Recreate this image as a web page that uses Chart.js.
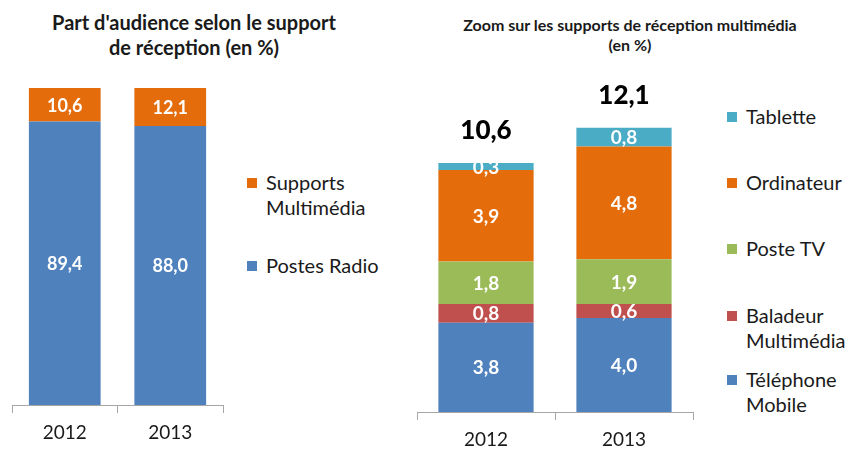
<!DOCTYPE html>
<html>
<head>
<meta charset="utf-8">
<script src="https://cdn.jsdelivr.net/npm/chart.js@4"></script>
<style>
  body { margin: 0; background: #fff; font-family: Lato, "Noto Sans", sans-serif; color: #1a1a1a; }
  .wrap { position: relative; width: 848px; height: 450px; overflow: hidden; }
  .box { position: absolute; }
  .title { position: absolute; font-weight: bold; text-align: center; white-space: nowrap; }
  .leg { position: absolute; font-size: 20px; line-height: 25px; padding-left: 19px; white-space: nowrap; }
  .leg i { position: absolute; left: 0; top: 8px; width: 10px; height: 10px; }
</style>
</head>
<body>
<div class="wrap">
  <div class="title" style="left:24px; top:10px; width:340px; font-size:20px; line-height:25px;">Part d'audience selon le support<br>de réception (en %)</div>
  <div class="title" style="left:450px; top:15px; width:360px; font-size:16px; line-height:20px;">Zoom sur les supports de réception multimédia<br>(en %)</div>

  <div class="box" style="left:0; top:0;"><canvas id="audienceChart" width="240" height="450"></canvas></div>
  <div class="box" style="left:410px; top:0;"><canvas id="zoomChart" width="300" height="450"></canvas></div>

  <div id="legendLeft"></div>
  <div id="legendRight"></div>
</div>
<script>
// categories
const years = ['2012', '2013'];

// left chart: share of audience (%)
const postesRadio = [89.4, 88.0];
const supportsMultimedia = [10.6, 12.1];

// right chart: multimedia breakdown (%)
const telephoneMobile = [3.8, 4.0];
const baladeurMultimedia = [0.8, 0.6];
const posteTV = [1.8, 1.9];
const ordinateur = [3.9, 4.8];
const tablette = [0.3, 0.8];

const BLUE = '#4f81bd', ORANGE = '#e46c0a', GREEN = '#9bbb59', RED = '#c0504d', TEAL = '#4bacc6';
const FONT = 'Lato, "Noto Sans", sans-serif';

function fmt(v) {
    return v.toFixed(1).replace('.', ',');
}

// white value labels in the middle of every segment
const segmentLabels = {
    id: 'segmentLabels',
    afterDatasetsDraw(chart, args, opts) {
        const ctx = chart.ctx;
        ctx.save();
        ctx.fillStyle = '#fff';
        ctx.font = 'bold ' + opts.size + 'px ' + FONT;
        ctx.textAlign = 'center';
        ctx.textBaseline = 'middle';
        chart.data.datasets.forEach((ds, i) => {
            chart.getDatasetMeta(i).data.forEach((bar, j) => {
                ctx.fillText(fmt(ds.data[j]), bar.x, (bar.y + bar.base) / 2 + 1);
            });
        });
        ctx.restore();
    }
};

// black totals above the stacks (right chart)
const stackTotals = {
    id: 'stackTotals',
    afterDatasetsDraw(chart, args, opts) {
        if (!opts.show) return;
        const ctx = chart.ctx;
        const yScale = chart.scales.y;
        ctx.save();
        ctx.fillStyle = '#000';
        ctx.font = '900 26px ' + FONT;
        ctx.textAlign = 'center';
        ctx.textBaseline = 'middle';
        chart.data.labels.forEach((lab, j) => {
            let total = 0;
            chart.data.datasets.forEach(ds => { total += ds.data[j]; });
            const x = chart.getDatasetMeta(0).data[j].x;
            ctx.fillText(fmt(total), x, yScale.getPixelForValue(total) - 32);
        });
        ctx.restore();
    }
};

function xAxis(height, pad) {
    return {
        stacked: true,
        afterFit(scale) { scale.height = height; },
        grid: {
            offset: true,
            drawOnChartArea: false,
            tickLength: 8,
            color: '#a6a6a6'
        },
        border: { color: '#a6a6a6', width: 1 },
        ticks: { color: '#1a1a1a', padding: pad, font: { family: FONT, size: 19 } }
    };
}

new Chart(document.getElementById('audienceChart'), {
    type: 'bar',
    data: {
        labels: years,
        datasets: [
            { label: 'Postes Radio', data: postesRadio, backgroundColor: BLUE },
            { label: 'Supports Multimédia', data: supportsMultimedia, backgroundColor: ORANGE }
        ]
    },
    options: {
        responsive: false,
        animation: false,
        layout: { padding: { left: 12, right: 17, top: 88, bottom: 0 } },
        datasets: { bar: { barPercentage: 0.68, categoryPercentage: 1 } },
        scales: {
            x: xAxis(45, 8),
            y: { stacked: true, display: false, min: 0, max: 100 }
        },
        plugins: {
            legend: { display: false },
            tooltip: { enabled: false },
            segmentLabels: { size: 18 },
            stackTotals: { show: false }
        }
    },
    plugins: [segmentLabels, stackTotals]
});

new Chart(document.getElementById('zoomChart'), {
    type: 'bar',
    data: {
        labels: years,
        datasets: [
            { label: 'Téléphone Mobile', data: telephoneMobile, backgroundColor: BLUE },
            { label: 'Baladeur Multimédia', data: baladeurMultimedia, backgroundColor: RED },
            { label: 'Poste TV', data: posteTV, backgroundColor: GREEN },
            { label: 'Ordinateur', data: ordinateur, backgroundColor: ORANGE },
            { label: 'Tablette', data: tablette, backgroundColor: TEAL }
        ]
    },
    options: {
        responsive: false,
        animation: false,
        layout: { padding: { left: 7, right: 17, top: 83, bottom: 0 } },
        datasets: { bar: { barPercentage: 0.69, categoryPercentage: 1 } },
        scales: {
            x: xAxis(38, 8),
            y: { stacked: true, display: false, min: 0, max: 14 }
        },
        plugins: {
            legend: { display: false },
            tooltip: { enabled: false },
            segmentLabels: { size: 19 },
            stackTotals: { show: true }
        }
    },
    plugins: [segmentLabels, stackTotals]
});

// legends (html, multi-line entries like the original)
const leftLegend = [
    { text: 'Supports<br>Multimédia', color: ORANGE, x: 247, y: 170 },
    { text: 'Postes Radio', color: BLUE, x: 247, y: 253 }
];
const rightLegend = [
    { text: 'Tablette', color: TEAL, x: 727, y: 104 },
    { text: 'Ordinateur', color: ORANGE, x: 727, y: 170 },
    { text: 'Poste TV', color: GREEN, x: 727, y: 236 },
    { text: 'Baladeur<br>Multimédia', color: RED, x: 727, y: 303 },
    { text: 'Téléphone<br>Mobile', color: BLUE, x: 727, y: 367 }
];
function buildLegend(id, items) {
    const el = document.getElementById(id);
    items.forEach(it => {
        const d = document.createElement('div');
        d.className = 'leg';
        d.style.left = it.x + 'px';
        d.style.top = it.y + 'px';
        d.innerHTML = '<i style="background:' + it.color + '"></i>' + it.text;
        el.appendChild(d);
    });
}
buildLegend('legendLeft', leftLegend);
buildLegend('legendRight', rightLegend);
</script>
</body>
</html>
